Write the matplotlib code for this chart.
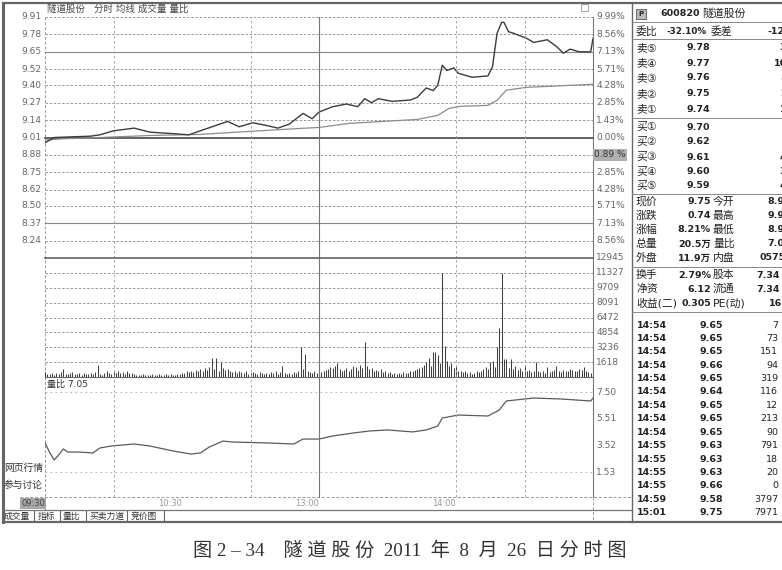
import numpy as np
import matplotlib.pyplot as plt
from matplotlib.patches import Rectangle
from matplotlib.transforms import blended_transform_factory

plt.rcParams['font.family'] = ['DejaVu Sans', 'Noto Sans CJK SC']

# ---- 数据 ----
# 分时价格 (分钟序号 0..240, 0 = 09:30, 120 = 13:00)
price_min = [0, 4, 20, 24, 30, 39, 46, 55, 63, 68, 80, 85, 91, 97, 102, 107, 113, 117, 120, 126,
             132, 137, 140, 143, 146, 152, 160, 163, 167, 170, 172, 174, 176, 179, 181, 187, 194, 196, 198, 200,
             201, 203, 205, 211, 214, 220, 224, 227, 230, 234, 239, 240]
price_val = [8.97, 9.01, 9.02, 9.03, 9.06, 9.08, 9.05, 9.04, 9.03, 9.06, 9.13, 9.09, 9.12, 9.10, 9.08, 9.11, 9.19, 9.15, 9.20, 9.24,
             9.26, 9.24, 9.30, 9.27, 9.30, 9.28, 9.29, 9.31, 9.38, 9.36, 9.40, 9.55, 9.51, 9.53, 9.49, 9.46, 9.47, 9.54, 9.79, 9.87,
             9.87, 9.80, 9.79, 9.75, 9.72, 9.74, 9.69, 9.64, 9.67, 9.65, 9.65, 9.75]

# 均价线
avg_min = [0, 7, 24, 46, 68, 82, 112, 120, 133, 148, 163, 172, 177, 182, 194, 198, 202, 211, 222, 240]
avg_val = [8.99, 9.00, 9.01, 9.025, 9.033, 9.048, 9.078, 9.085, 9.115, 9.13, 9.145, 9.175, 9.228, 9.243,
           9.25, 9.288, 9.363, 9.385, 9.393, 9.408]

# 每分钟成交量
volume = [500, 300, 350, 400, 250, 450, 300, 500, 900, 350,
          300, 400, 550, 350, 300, 450, 250, 400, 350, 300,
          400, 350, 500, 1300, 300, 250, 450, 600, 400, 350,
          550, 450, 650, 400, 500, 350, 600, 450, 400, 300,
          250, 200, 250, 300, 200, 250, 200, 300, 250, 200,
          300, 250, 200, 350, 250, 300, 200, 250, 300, 350,
          400, 450, 600, 500, 700, 550, 800, 650, 900, 700,
          1000, 800, 1100, 2050, 900, 2100, 700, 1620, 1000, 800,
          900, 700, 500, 600, 450, 700, 500, 400, 600, 350,
          400, 550, 450, 350, 500, 400, 350, 450, 300, 550,
          400, 600, 350, 500, 1200, 400, 300, 450, 350, 500,
          400, 600, 3240, 900, 2500, 700, 500, 400, 600, 450,
          1800, 500, 700, 800, 900, 1100, 1000, 1200, 1550, 900,
          700, 800, 1000, 600, 900, 1200, 1100, 800, 1300, 1000,
          3850, 1200, 900, 1000, 700, 800, 600, 900, 500, 700,
          400, 500, 350, 450, 300, 400, 350, 500, 400, 450,
          600, 700, 800, 900, 1000, 1100, 1300, 1600, 2050, 1200,
          2700, 2770, 2340, 1500, 11300, 3400, 1700, 1200, 1550, 1000,
          1200, 700, 600, 500, 700, 400, 500, 350, 450, 600,
          500, 700, 900, 1100, 900, 1600, 1700, 1100, 3240, 5300,
          11300, 2000, 1970, 1000, 1970, 900, 1200, 800, 1000, 700,
          1260, 600, 800, 500, 700, 1620, 600, 500, 700, 400,
          1080, 500, 600, 800, 1190, 700, 500, 800, 600, 700,
          900, 800, 600, 700, 900, 800, 1080, 600, 500, 400, 350]

# 量比
ratio_min = [0, 2, 4, 6, 8, 10, 15, 21, 24, 29, 39, 46, 56, 64, 68, 72, 78, 82, 97, 109,
             113, 120, 126, 135, 142, 150, 161, 167, 172, 174, 181, 194, 199, 202, 214, 226, 239, 240]
ratio_val = [3.70, 3.00, 2.43, 2.80, 3.25, 3.02, 3.02, 2.95, 3.32, 3.47, 3.62, 3.47, 3.10, 2.87, 2.95, 3.40, 3.84, 3.77, 3.70, 3.62,
             3.99, 3.99, 4.22, 4.44, 4.59, 4.67, 4.52, 4.67, 4.96, 5.56, 5.78, 5.71, 6.16, 6.83, 7.05, 6.98, 6.83, 7.05]

price_ticks = [9.91, 9.78, 9.65, 9.52, 9.40, 9.27, 9.14, 9.01, 8.88, 8.75, 8.62, 8.50, 8.37, 8.24]
pct_labels = ['9.99%', '8.56%', '7.13%', '5.71%', '4.28%', '2.85%', '1.43%', '0.00%',
              '', '2.85%', '4.28%', '5.71%', '7.13%', '8.56%']
vol_ticks = [12945, 11327, 9709, 8091, 6472, 4854, 3236, 1618]
ratio_ticks = [7.50, 5.51, 3.52, 1.53]
time_ticks = [60, 120, 180]
time_labels = ['10:30', '13:00', '14:00']
grid_minutes = [30, 90, 120, 180, 210]

# 右侧盘口
order_labels = ['卖⑤', '卖④', '卖③', '卖②', '卖①', '买①', '买②', '买③', '买④', '买⑤']
order_prices = ['9.78', '9.77', '9.76', '9.75', '9.74', '9.70', '9.62', '9.61', '9.60', '9.59']
order_vols = ['3', '10', '5', '2', '1', '', '', '4', '3', '4']
stat_rows = [('现价', '9.75', '今开', '8.9'), ('涨跌', '0.74', '最高', '9.9'),
             ('涨幅', '8.21%', '最低', '8.9'), ('总量', '20.5万', '量比', '7.0'),
             ('外盘', '11.9万', '内盘', '0575')]
fund_rows = [('换手', '2.79%', '股本', '7.34'), ('净资', '6.12', '流通', '7.34'),
             ('收益(二)', '0.305', 'PE(动)', '16')]
tick_times = ['14:54'] * 9 + ['14:55'] * 4 + ['14:59', '15:01']
tick_prices = ['9.65', '9.65', '9.65', '9.66', '9.65', '9.64', '9.65', '9.65', '9.65',
               '9.63', '9.63', '9.63', '9.66', '9.58', '9.75']
tick_vols = [7, 73, 151, 94, 319, 116, 12, 213, 90, 791, 18, 20, 0, 3797, 7971]

# ---- 画图 ----
W, H = 782, 570
fig = plt.figure(figsize=(W / 100, H / 100), dpi=100)

ax_bg = fig.add_axes([0, 0, 1, 1])
ax_bg.set_xlim(0, W)
ax_bg.set_ylim(H, 0)
ax_bg.axis('off')


def px_axes(x0, y0, x1, y1):
    a = fig.add_axes([x0 / W, 1 - y1 / H, (x1 - x0) / W, (y1 - y0) / H])
    a.set_facecolor('none')
    a.set_xlim(0, 240)
    a.axis('off')
    return a


grid_kw = dict(color='#8a8a8a', lw=0.6, ls=(0, (3, 2)), clip_on=False)
lab_kw = dict(fontsize=6.5, color='#666', va='center')

# 价格区
ax_p = px_axes(45, 17, 593, 258)
ax_p.set_ylim(8.11, 9.91)
for v, pct in zip(price_ticks, pct_labels):
    if v == 9.01:
        ax_p.axhline(v, color='#555', lw=1.3, clip_on=False)
    elif v in (9.65, 8.37):
        ax_p.axhline(v, color='#888', lw=0.8, clip_on=False)
    else:
        ax_p.axhline(v, **grid_kw)
    ax_p.text(-0.006, v, f'{v:.2f}', transform=ax_p.get_yaxis_transform(), ha='right', **lab_kw)
    if pct:
        ax_p.text(1.006, v, pct, transform=ax_p.get_yaxis_transform(), ha='left', **lab_kw)
ax_p.text(1.002, 8.88, '0.89 %', transform=ax_p.get_yaxis_transform(), ha='left', va='center',
          fontsize=6.5, color='#333', bbox=dict(boxstyle='square,pad=0.15', fc='#b0b0b0', ec='none'))
ax_p.plot(avg_min, avg_val, color='#8c8c8c', lw=0.9)
ax_p.plot(price_min, price_val, color='#3c3c3c', lw=1.0)

# 成交量区
ax_v = px_axes(45, 258, 593, 377)
ax_v.set_ylim(0, 12945)
for v in vol_ticks:
    if v == vol_ticks[0]:
        ax_v.axhline(v, color='#555', lw=1.1, clip_on=False)
    else:
        ax_v.axhline(v, **grid_kw)
    ax_v.text(1.006, v, str(v), transform=ax_v.get_yaxis_transform(), ha='left', **lab_kw)
ax_v.vlines(np.arange(len(volume)), 0, volume, colors='#404040', lw=0.75)
ax_v.axhline(0, color='#666', lw=0.8, clip_on=False)

# 量比区
ax_r = px_axes(45, 377, 593, 497)
ax_r.set_ylim(-0.335, 8.62)
for v in ratio_ticks:
    if v in (7.50, 1.53):
        ax_r.axhline(v, color='#a8a8a8', lw=0.6, ls=(0, (2, 4)), clip_on=False)
    ax_r.text(1.006, v, f'{v:.2f}', transform=ax_r.get_yaxis_transform(), ha='left', **lab_kw)
ax_r.plot(ratio_min, ratio_val, color='#5a5a5a', lw=0.9)
ax_r.text(0.003, 0.94, '量比 7.05', transform=ax_r.transAxes, fontsize=6.5, color='#333', va='center')

# 竖向网格
for a in (ax_p, ax_v, ax_r):
    for m in grid_minutes:
        if m == 120:
            a.axvline(m, color='#777', lw=0.8, clip_on=False)
        else:
            a.axvline(m, color='#9a9a9a', lw=0.6, ls=(0, (3, 3)), clip_on=False)

# 时间轴
tr = blended_transform_factory(ax_p.transData, ax_bg.transData)
for m, lab in zip(time_ticks, time_labels):
    ax_bg.text(m, 503, lab, transform=tr, ha='right', va='center', fontsize=6, color='#999')
ax_bg.add_patch(Rectangle((20, 498), 26, 11, fc='#a8a8a8', ec='none'))
ax_bg.text(33, 503.5, '09:30', ha='center', va='center', fontsize=6, color='#444')

# 边框与分隔线
line = dict(color='#666')
ax_bg.plot([3, W], [3, 3], lw=1.6, **line)
ax_bg.plot([3, 3], [3, 522], lw=2.2, **line)
ax_bg.plot([3, W], [522, 522], lw=1.6, **line)
ax_bg.plot([632, 632], [3, 522], lw=1.0, **line)
ax_bg.plot([45, 45], [17, 510], color='#999', lw=0.7, ls=(0, (3, 2)))
ax_bg.plot([593, 593], [17, 497], color='#777', lw=0.8)
ax_bg.plot([593, 593], [497, 522], color='#999', lw=0.7, ls=(0, (3, 2)))
ax_bg.plot([20, 632], [497, 497], color='#999', lw=0.7, ls=(0, (3, 2)))
ax_bg.plot([3, 632], [510, 510], color='#777', lw=0.9)
ax_bg.add_patch(Rectangle((581, 4), 7, 7, fc='none', ec='#999', lw=0.6))

ax_bg.text(47, 9.5, '隧道股份   分时 均线 成交量 量比', fontsize=6.8, color='#444', va='center')
ax_bg.text(4, 468, '网页行情', fontsize=7, color='#333', va='center')
ax_bg.text(4, 485, '参与讨论', fontsize=7, color='#333', va='center')

# 底部标签页
tab_names = ['成交量', '指标', '量比', '买卖力道', '竞价图']
tab_x = [4, 38, 63, 90, 131]
tab_sep = [34, 60, 86, 127, 164]
for x, t in zip(tab_x, tab_names):
    ax_bg.text(x, 516, t, fontsize=6.3, color='#333', va='center')
for x in tab_sep:
    ax_bg.plot([x, x], [511, 521], color='#666', lw=0.8)

# 右侧盘口
rk = dict(fontsize=7.8, color='#222', va='center')
rb = dict(fontsize=6.8, color='#222', va='center', fontweight='bold')
for y in [22, 39, 118, 194, 267, 312]:
    ax_bg.plot([632, W], [y, y], color='#888', lw=0.7)
ax_bg.add_patch(Rectangle((636, 9), 10, 10, fc='#bbb', ec='#555', lw=0.6))
ax_bg.text(641, 14, 'P', fontsize=5, color='#222', ha='center', va='center', fontweight='bold')
ax_bg.text(660, 14, '600820', **rb)
ax_bg.text(702, 14, '隧道股份', **rk)
ax_bg.text(636, 31, '委比', **rk)
ax_bg.text(707, 31, '-32.10%', ha='right', fontsize=6.3, color='#222', va='center', fontweight='bold')
ax_bg.text(711, 31, '委差', **rk)
ax_bg.text(767, 31, '-12', **rb)

order_y = [48, 63, 78, 94, 109, 127, 142, 157, 172, 186]
for y, lab, p, v in zip(order_y, order_labels, order_prices, order_vols):
    ax_bg.text(636, y, lab, **rk)
    ax_bg.text(710, y, p, ha='right', **rb)
    if v:
        ax_bg.text(782 - 6.2 * len(v) + 4, y, v, **rb)

stat_y = [202, 216, 230, 244, 258]
for y, (l1, v1, l2, v2) in zip(stat_y, stat_rows):
    ax_bg.text(636, y, l1, **rk)
    ax_bg.text(711, y, v1, ha='right', **rb)
    ax_bg.text(713, y, l2, **rk)
    ax_bg.text(767 if len(v2) < 4 else 759, y, v2, **rb)

fund_y = [275, 289, 303]
for y, (l1, v1, l2, v2) in zip(fund_y, fund_rows):
    ax_bg.text(636, y, l1, **rk)
    ax_bg.text(711, y, v1, ha='right', **rb)
    ax_bg.text(713, y, l2, **rk)
    ax_bg.text(756 if len(v2) > 2 else 769, y, v2, **rb)

tick_y = 325 + 13.4 * np.arange(len(tick_times))
for y, t, p, v in zip(tick_y, tick_times, tick_prices, tick_vols):
    ax_bg.text(637, y, t, **rb)
    ax_bg.text(723, y, p, ha='right', **rb)
    ax_bg.text(778, y, str(v), ha='right', fontsize=6.8, color='#222', va='center')

# 图注
ax_bg.text(410, 551, '图 2 – 34    隧 道 股 份  2011  年  8  月  26  日 分 时 图', ha='center', va='center',
           fontsize=13.8, color='#333', family=['Liberation Serif', 'Noto Sans CJK SC'])

fig.savefig('out.png', dpi=100)
